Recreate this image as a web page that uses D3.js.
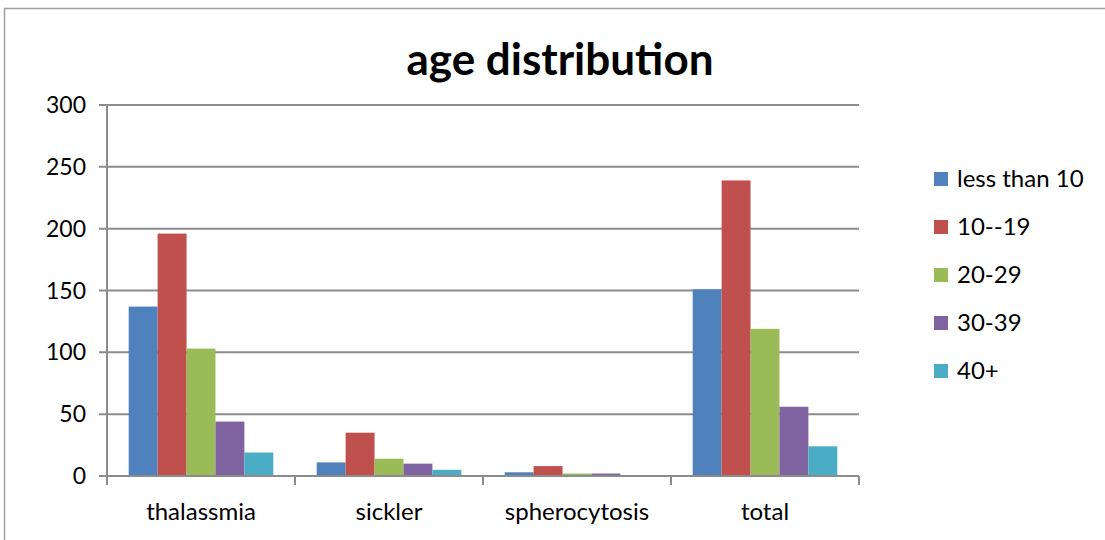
<!DOCTYPE html>
<html>
<head>
<meta charset="utf-8">
<script src="https://cdn.jsdelivr.net/npm/d3@7"></script>
<style>
  body { margin: 0; background: #fff; }
  text { font-family: Lato, "Open Sans", sans-serif; fill: #000; }
</style>
</head>
<body>
<svg id="chart" width="1105" height="540"></svg>
<script>
var categories = ['thalassmia', 'sickler', 'spherocytosis', 'total'];
var seriesNames = ['less than 10', '10--19', '20-29', '30-39', '40+'];
var lessThan10 = [137, 11, 3, 151];
var age10to19 = [196, 35, 8, 239];
var age20to29 = [103, 14, 2, 119];
var age30to39 = [44, 10, 2, 56];
var age40plus = [19, 5, 0, 24];
var yTicks = [0, 50, 100, 150, 200, 250, 300];
var colors = ['#4F81BD', '#C0504D', '#9BBB59', '#8064A2', '#4BACC6'];

var series = [lessThan10, age10to19, age20to29, age30to39, age40plus];

var svg = d3.select('#chart');

var plotL = 107, plotR = 859, plotT = 105, plotB = 476;

// outer chart border (cropped at right and bottom)
svg.append('path')
  .attr('d', 'M4.5 540 L4.5 8.5 L1105 8.5')
  .attr('fill', 'none')
  .attr('stroke', '#a0a0a0')
  .attr('stroke-width', 1.5);

var x0 = d3.scaleBand().domain(categories).range([plotL, plotR]);
// group of 5 bars with 150% gap width
var groupW = x0.bandwidth() * 5 / 6.5;
var x1 = d3.scaleBand().domain(d3.range(series.length)).range([0, groupW]);
var y = d3.scaleLinear().domain([0, 300]).range([plotB, plotT]);

// gridlines
svg.append('g')
  .selectAll('line')
  .data(yTicks)
  .enter()
  .append('line')
  .attr('x1', plotL - 8)
  .attr('x2', plotR)
  .attr('y1', function (d) { return y(d); })
  .attr('y2', function (d) { return y(d); })
  .attr('stroke', '#8c8c8c')
  .attr('stroke-width', 2);

// y tick labels
svg.append('g')
  .selectAll('text')
  .data(yTicks)
  .enter()
  .append('text')
  .attr('x', 86)
  .attr('y', function (d) { return y(d); })
  .attr('dy', '0.35em')
  .attr('text-anchor', 'end')
  .style('font-size', '23px')
  .text(function (d) { return d; });

// bars
var groups = svg.append('g')
  .selectAll('g')
  .data(series)
  .enter()
  .append('g')
  .attr('fill', function (d, i) { return colors[i]; });

groups.each(function (vals, si) {
  d3.select(this).selectAll('rect')
    .data(vals)
    .enter()
    .append('rect')
    .attr('x', function (d, ci) { return x0(categories[ci]) + (x0.bandwidth() - groupW) / 2 + x1(si); })
    .attr('width', x1.bandwidth())
    .attr('y', function (d) { return y(d); })
    .attr('height', function (d) { return plotB - y(d); });
});

// y axis line
svg.append('line')
  .attr('x1', plotL).attr('x2', plotL)
  .attr('y1', plotT).attr('y2', plotB)
  .attr('stroke', '#8c8c8c')
  .attr('stroke-width', 2);

// x axis with category ticks
var xAxis = svg.append('g');
xAxis.append('line')
  .attr('x1', plotL).attr('x2', plotR)
  .attr('y1', plotB).attr('y2', plotB)
  .attr('stroke', '#8c8c8c')
  .attr('stroke-width', 2);

var tickXs = categories.map(function (c) { return x0(c); }).concat([plotR]);
xAxis.selectAll('line.tick')
  .data(tickXs)
  .enter()
  .append('line')
  .attr('class', 'tick')
  .attr('x1', function (d) { return d; })
  .attr('x2', function (d) { return d; })
  .attr('y1', plotB)
  .attr('y2', plotB + 9)
  .attr('stroke', '#8c8c8c')
  .attr('stroke-width', 2);

xAxis.selectAll('text')
  .data(categories)
  .enter()
  .append('text')
  .attr('x', function (d) { return x0(d) + x0.bandwidth() / 2; })
  .attr('y', 512)
  .attr('dy', '0.35em')
  .attr('text-anchor', 'middle')
  .style('font-size', '24px')
  .text(function (d) { return d; });

// title
svg.append('text')
  .attr('x', 560)
  .attr('y', 60)
  .attr('dy', '0.35em')
  .attr('text-anchor', 'middle')
  .style('font-size', '44px')
  .style('font-weight', 'bold')
  .text('age distribution');

// legend
var legend = svg.append('g')
  .selectAll('g')
  .data(seriesNames)
  .enter()
  .append('g')
  .attr('transform', function (d, i) { return 'translate(934,' + (179 + i * 48) + ')'; });

legend.append('rect')
  .attr('x', 0)
  .attr('y', -7)
  .attr('width', 14)
  .attr('height', 14)
  .attr('fill', function (d, i) { return colors[i]; });

legend.append('text')
  .attr('x', 23)
  .attr('y', 0)
  .attr('dy', '0.35em')
  .style('font-size', '24px')
  .text(function (d) { return d; });
</script>
</body>
</html>
